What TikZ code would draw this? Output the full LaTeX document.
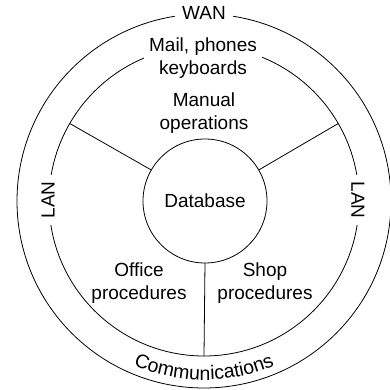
\documentclass[tikz,border=0pt]{standalone}
\usepackage{fontspec}
\setmainfont{Liberation Sans}
\usetikzlibrary{decorations.text,calc}
\begin{document}
\begin{tikzpicture}[x=1bp,y=1bp,
  ring/.style={circle,draw,line width=0.8bp,inner sep=0pt,outer sep=0pt},
  lbl/.style={font=\fontsize{19bp}{23bp}\selectfont,align=center,inner sep=0pt},
  gaplbl/.style={lbl,fill=white,inner sep=6bp},
  spoke/.style={line width=0.8bp}]
\useasboundingbox (0,0) rectangle (390,390);
\coordinate (C) at (204,189);
\node[ring,minimum size=374bp] (wan) at (C) {};
\node[ring,minimum size=310bp] (lan) at (C) {};
\node[ring,minimum size=124bp,lbl] (db) at (205,189) {Database};
\draw[spoke] (db.150) -- (lan.150);
\draw[spoke] (db.30) -- (lan.30);
\draw[spoke] (db.270) -- (lan.270);
\node[gaplbl,inner xsep=7bp] (wanl) at (204,377) {WAN};
\node[gaplbl,inner xsep=5bp] (mail) at (203,332) {Mail, phones\\keyboards};
\node[lbl] (man) at (204,277) {Manual\\operations};
\node[gaplbl,rotate=90,inner xsep=7bp] (lanl) at (48,190) {LAN};
\node[gaplbl,rotate=-90,inner xsep=7bp] (lanr) at (358,190) {LAN};
\node[lbl] (off) at (139,107) {Office\\procedures};
\node[lbl] (shop) at (265,107) {Shop\\procedures};
\path[decorate,decoration={text along path,text align=center,
  text={|\fontsize{19.5bp}{23bp}\selectfont|Communications}}]
  ($(C)+(225:179)$) arc[start angle=225,end angle=315,radius=179];
\end{tikzpicture}
\end{document}
